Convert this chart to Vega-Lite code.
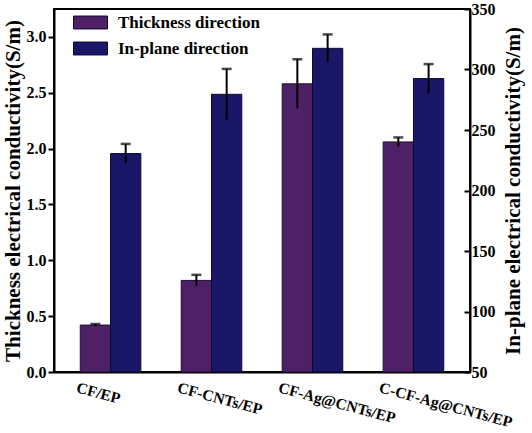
{
  "$schema": "https://vega.github.io/schema/vega-lite/v6.json",
  "width": 416,
  "height": 363,
  "autosize": {"type": "none"},
  "padding": {"left": 54, "top": 9, "right": 62, "bottom": 61},
  "background": "white",
  "config": {
    "view": {"stroke": "black", "strokeWidth": 2},
    "font": "'Liberation Serif', 'Times New Roman', serif",
    "axis": {
      "labelFont": "'Liberation Serif', 'Times New Roman', serif",
      "labelFontWeight": "bold",
      "labelFontSize": 16,
      "labelColor": "black",
      "titleFont": "'Liberation Serif', 'Times New Roman', serif",
      "titleFontWeight": "bold",
      "titleFontSize": 21,
      "titleColor": "black",
      "domainColor": "black",
      "domainWidth": 2,
      "tickColor": "black",
      "tickWidth": 2,
      "grid": false
    },
    "legend": {
      "labelFont": "'Liberation Serif', 'Times New Roman', serif",
      "labelFontWeight": "bold",
      "labelFontSize": 17,
      "labelColor": "black"
    }
  },
  "data": {
    "values": [
      {"sample": "CF/EP", "series": "Thickness direction", "value": 0.42, "lo": 0.41, "hi": 0.43},
      {"sample": "CF-CNTs/EP", "series": "Thickness direction", "value": 0.82, "lo": 0.77, "hi": 0.87},
      {"sample": "CF-Ag@CNTs/EP", "series": "Thickness direction", "value": 2.58, "lo": 2.36, "hi": 2.80},
      {"sample": "C-CF-Ag@CNTs/EP", "series": "Thickness direction", "value": 2.06, "lo": 2.02, "hi": 2.10},
      {"sample": "CF/EP", "series": "In-plane direction", "value": 230.5, "lo": 222.5, "hi": 238.5},
      {"sample": "CF-CNTs/EP", "series": "In-plane direction", "value": 279.5, "lo": 258.5, "hi": 300.5},
      {"sample": "CF-Ag@CNTs/EP", "series": "In-plane direction", "value": 317.5, "lo": 306, "hi": 329},
      {"sample": "C-CF-Ag@CNTs/EP", "series": "In-plane direction", "value": 292.5, "lo": 280.5, "hi": 304.5}
    ]
  },
  "encoding": {
    "x": {
      "field": "sample",
      "type": "nominal",
      "sort": null,
      "scale": {"paddingInner": 0.4, "paddingOuter": 0.26},
      "axis": {
        "title": null,
        "ticks": false,
        "labelAngle": 15,
        "labelAlign": "left",
        "labelBaseline": "top",
        "labelOffset": -32,
        "labelPadding": 8,
        "labelFontSize": 15.5,
        "labelLimit": 0
      }
    },
    "xOffset": {
      "field": "series",
      "type": "nominal",
      "scale": {"domain": ["Thickness direction", "In-plane direction"], "paddingInner": 0, "paddingOuter": 0}
    }
  },
  "layer": [
    {
      "transform": [{"filter": "datum.series === 'Thickness direction'"}],
      "encoding": {
        "y": {
          "field": "value",
          "type": "quantitative",
          "scale": {"domain": [0, 3.25], "nice": false, "zero": true},
          "axis": {
            "orient": "left",
            "title": "Thickness electrical conductivity(S/m)",
            "values": [0, 0.5, 1, 1.5, 2, 2.5, 3],
            "format": ".1f",
            "tickSize": 6,
            "labelPadding": 2,
            "titlePadding": 3
          }
        }
      },
      "layer": [
        {
          "mark": {"type": "bar", "stroke": "#1a1030", "strokeWidth": 1},
          "encoding": {
            "fill": {
              "field": "series",
              "type": "nominal",
              "scale": {"domain": ["Thickness direction", "In-plane direction"], "range": ["#4e2167", "#1a1668"]},
              "legend": {
                "title": null,
                "orient": "none",
                "legendX": 19,
                "legendY": -4,
                "symbolType": "M-1,-0.38H1V0.38H-1Z",
                "symbolSize": 1156,
                "symbolStrokeColor": "#202020",
                "symbolStrokeWidth": 1,
                "labelOffset": 10,
                "rowPadding": -2
              }
            }
          }
        },
        {
          "mark": {"type": "rule", "color": "black", "strokeWidth": 2},
          "encoding": {"y": {"field": "lo", "type": "quantitative"}, "y2": {"field": "hi"}}
        },
        {
          "mark": {"type": "tick", "color": "black", "thickness": 2.5, "size": 10},
          "encoding": {"y": {"field": "hi", "type": "quantitative"}}
        }
      ]
    },
    {
      "transform": [{"filter": "datum.series === 'In-plane direction'"}],
      "encoding": {
        "y": {
          "field": "value",
          "type": "quantitative",
          "scale": {"domain": [50, 350], "nice": false, "zero": false},
          "axis": {
            "orient": "right",
            "title": "In-plane electrical conductivity(S/m)",
            "titleAngle": -90,
            "values": [50, 100, 150, 200, 250, 300, 350],
            "tickSize": -6,
            "labelPadding": 7,
            "titlePadding": 28
          }
        }
      },
      "layer": [
        {
          "mark": {"type": "bar", "stroke": "#0a0a30", "strokeWidth": 1},
          "encoding": {
            "y2": {"datum": 50},
            "fill": {"field": "series", "type": "nominal"}
          }
        },
        {
          "mark": {"type": "rule", "color": "black", "strokeWidth": 2},
          "encoding": {"y": {"field": "lo", "type": "quantitative"}, "y2": {"field": "hi"}}
        },
        {
          "mark": {"type": "tick", "color": "black", "thickness": 2.5, "size": 10},
          "encoding": {"y": {"field": "hi", "type": "quantitative"}}
        }
      ]
    }
  ],
  "resolve": {"scale": {"y": "independent"}}
}
